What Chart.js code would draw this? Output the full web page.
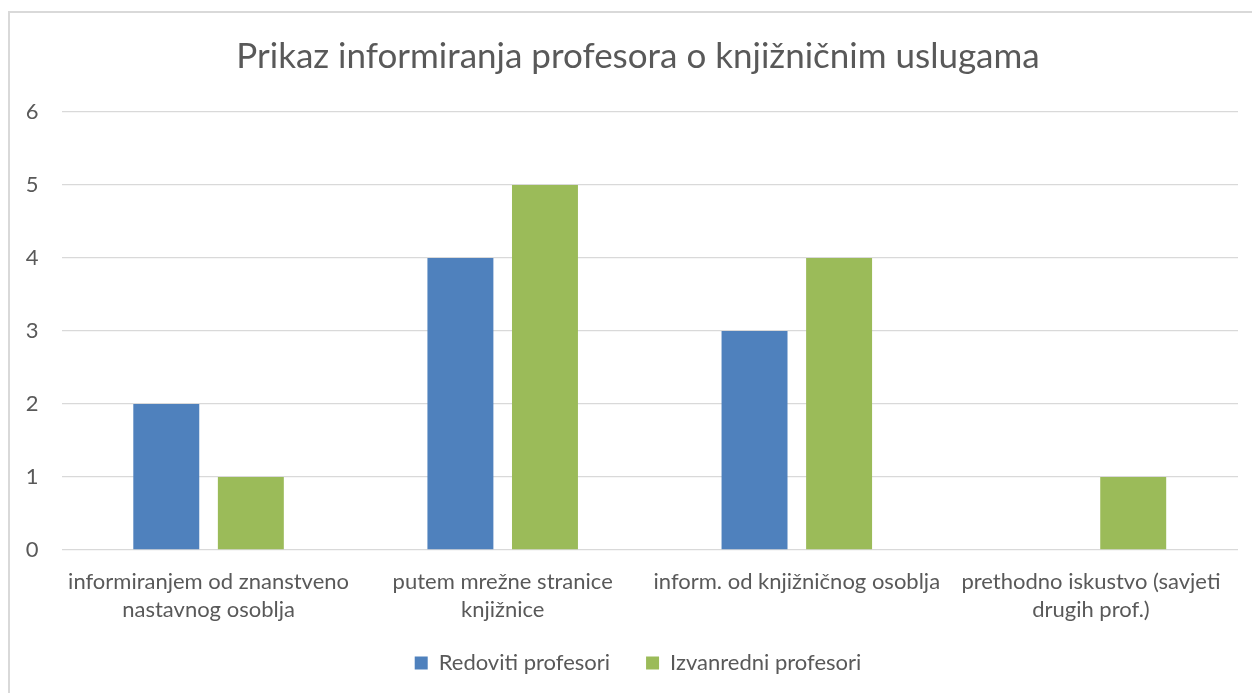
<!DOCTYPE html>
<html>
<head>
<meta charset="utf-8">
<script src="https://cdn.jsdelivr.net/npm/chart.js@4"></script>
<style>
  body { margin: 0; background: #fff; overflow: hidden; }
  #wrap { position: absolute; left: 8px; top: 11px; width: 1260px; height: 690px; border: 2px solid #d9d9d9; background: #fff; }
</style>
</head>
<body>
<div id="wrap"><canvas id="graph" width="1250" height="690"></canvas></div>
<script>
var categories = [
  ["informiranjem od znanstveno", "nastavnog osoblja"],
  ["putem mrežne stranice", "knjižnice"],
  "inform. od knjižničnog osoblja",
  ["prethodno iskustvo (savjeti", "drugih prof.)"]
];
var redoviti = [2, 4, 3, 0];
var izvanredni = [1, 5, 4, 1];
var yTicks = [0, 1, 2, 3, 4, 5, 6];

var textColor = "#595959";
var ctx = document.getElementById("graph").getContext("2d");

// let the two-line category labels run past the x-axis box
var noLabelClip = {
  id: "noLabelClip",
  beforeDraw: function (chart) {
    chart.scales.x._computeLabelArea = function () { return undefined; };
  },
};

var chart = new Chart(ctx, {
  type: "bar",
  data: {
    labels: categories,
    datasets: [
      {
        label: "Redoviti profesori",
        data: redoviti,
        backgroundColor: "#4f81bd",
        categoryPercentage: 0.575,
        barPercentage: 0.78,
      },
      {
        label: "Izvanredni profesori",
        data: izvanredni,
        backgroundColor: "#9bbb59",
        categoryPercentage: 0.575,
        barPercentage: 0.78,
      },
    ],
  },
  plugins: [noLabelClip],
  options: {
    responsive: false,
    animation: false,
    layout: { padding: { left: 6, right: 0, top: 0, bottom: 19 } },
    plugins: {
      title: {
        display: true,
        text: "Prikaz informiranja profesora o knjižničnim uslugama",
        color: textColor,
        font: { family: "Lato", size: 35, weight: "normal" },
        padding: { top: 23, bottom: 34 },
      },
      legend: {
        position: "bottom",
        labels: {
          color: textColor,
          font: { family: "Lato", size: 22 },
          boxWidth: 13,
          boxHeight: 13,
          padding: 36,
        },
      },
      tooltip: { enabled: false },
    },
    scales: {
      x: {
        grid: { display: false },
        border: { display: false },
        ticks: {
          color: textColor,
          font: { family: "Lato", size: 22, lineHeight: 1.27 },
          padding: 10,
          maxRotation: 0,
          autoSkip: false,
        },
        afterFit: function (s) { s.height = 66; },
      },
      y: {
        min: 0,
        max: 6,
        afterBuildTicks: function (s) { s.ticks = yTicks.map(function (v) { return { value: v }; }); },
        grid: { color: "#d9d9d9", lineWidth: 1.3, drawTicks: false },
        border: { display: false },
        ticks: {
          color: textColor,
          font: { family: "Lato", size: 22 },
          padding: 23,
        },
        afterFit: function (s) { s.width = 45.5; },
      },
      yRight: {
        position: "right",
        grid: { display: false },
        border: { display: false },
        ticks: { display: false },
        afterFit: function (s) { s.width = 22; },
      },
    },
  },
});
</script>
</body>
</html>
